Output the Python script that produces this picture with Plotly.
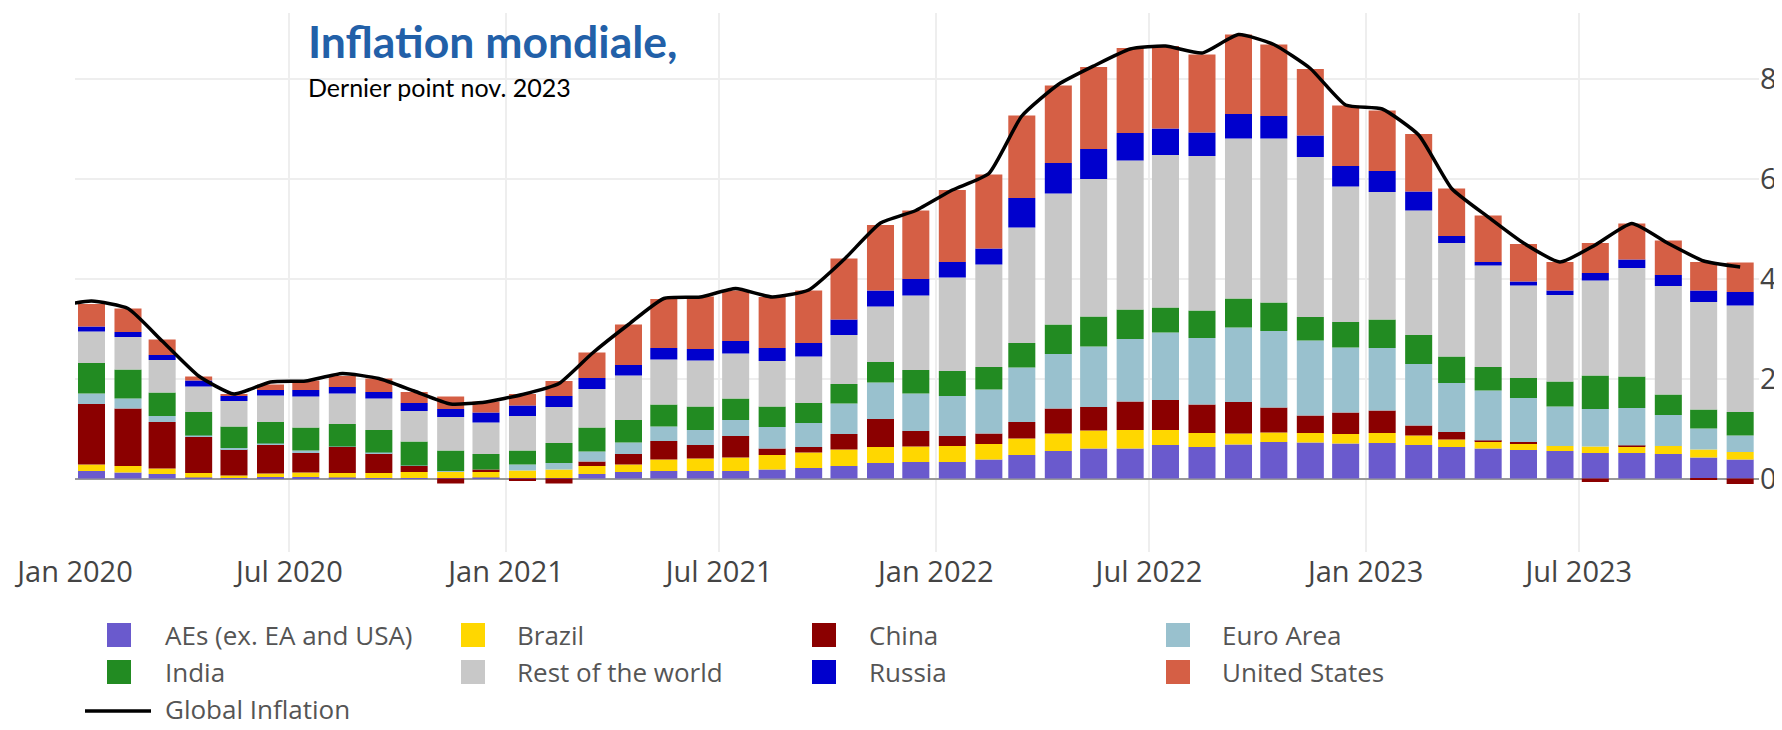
import plotly.graph_objects as go

# ---------------- data ----------------
bar_months = [f"{y}-{m:02d}-15" for y in range(2020, 2024) for m in range(1, 13)][:47]
line_months = ["2019-12-15"] + bar_months

series_names = ["AEs (ex. EA and USA)", "Brazil", "China", "Euro Area",
                "India", "Rest of the world", "Russia", "United States"]
series_colors = ["#6A5ACD", "#FFD700", "#8B0000", "#99C1CE",
                 "#228B22", "#C8C8C8", "#0000CD", "#D55F45"]

aes = [0.15, 0.12, 0.09, 0.02, 0.01, 0.03, 0.03, 0.02, 0.01, 0.01, 0.01, 0.02,
       0.01, 0.01, 0.09, 0.13, 0.15, 0.15, 0.15, 0.18, 0.21, 0.25, 0.31, 0.33,
       0.33, 0.38, 0.47, 0.55, 0.60, 0.60, 0.67, 0.63, 0.68, 0.73, 0.72, 0.70,
       0.71, 0.67, 0.63, 0.60, 0.57, 0.55, 0.51, 0.51, 0.49, 0.42, 0.38]
brazil = [0.13, 0.13, 0.11, 0.09, 0.05, 0.07, 0.09, 0.09, 0.10, 0.12, 0.13, 0.11,
          0.15, 0.17, 0.16, 0.15, 0.23, 0.25, 0.27, 0.29, 0.31, 0.33, 0.32, 0.31,
          0.32, 0.31, 0.33, 0.35, 0.36, 0.37, 0.30, 0.28, 0.22, 0.19, 0.19, 0.19,
          0.20, 0.19, 0.15, 0.13, 0.13, 0.10, 0.13, 0.13, 0.16, 0.16, 0.15]
china = [1.21, 1.15, 0.93, 0.72, 0.52, 0.57, 0.39, 0.52, 0.39, 0.12, -0.10, 0.05,
         -0.05, -0.10, 0.09, 0.21, 0.37, 0.27, 0.43, 0.13, 0.11, 0.31, 0.56, 0.31,
         0.20, 0.21, 0.33, 0.50, 0.47, 0.57, 0.60, 0.57, 0.63, 0.50, 0.35, 0.43,
         0.45, 0.20, 0.15, 0.03, 0.03, 0.00, -0.07, 0.02, 0.00, -0.03, -0.11]
euro_area = [0.21, 0.20, 0.12, 0.03, 0.03, 0.03, 0.05, 0.01, 0.02, 0.01, 0.01, 0.00,
             0.12, 0.13, 0.20, 0.23, 0.29, 0.30, 0.32, 0.43, 0.48, 0.61, 0.73, 0.75,
             0.80, 0.88, 1.09, 1.09, 1.21, 1.25, 1.35, 1.33, 1.49, 1.53, 1.50, 1.30,
             1.25, 1.23, 0.98, 1.00, 0.88, 0.79, 0.75, 0.75, 0.62, 0.42, 0.33]
india = [0.61, 0.58, 0.47, 0.47, 0.43, 0.43, 0.46, 0.45, 0.45, 0.48, 0.41, 0.31,
         0.28, 0.40, 0.48, 0.45, 0.44, 0.47, 0.43, 0.41, 0.40, 0.39, 0.41, 0.47,
         0.50, 0.45, 0.49, 0.59, 0.60, 0.59, 0.50, 0.55, 0.58, 0.57, 0.47, 0.51,
         0.57, 0.58, 0.53, 0.47, 0.40, 0.50, 0.67, 0.63, 0.41, 0.38, 0.47]
rest_of_world = [0.63, 0.65, 0.65, 0.51, 0.51, 0.53, 0.62, 0.61, 0.63, 0.61, 0.67, 0.63,
                 0.69, 0.72, 0.77, 0.89, 0.90, 0.92, 0.90, 0.91, 0.93, 0.98, 1.11, 1.49,
                 1.87, 2.05, 2.31, 2.62, 2.75, 2.98, 3.05, 3.09, 3.20, 3.28, 3.20, 2.71,
                 2.55, 2.49, 2.27, 2.03, 1.85, 1.73, 1.90, 2.17, 2.17, 2.15, 2.13]
russia = [0.10, 0.10, 0.10, 0.12, 0.10, 0.11, 0.13, 0.13, 0.13, 0.16, 0.16, 0.20,
          0.21, 0.22, 0.22, 0.21, 0.23, 0.23, 0.25, 0.26, 0.27, 0.31, 0.32, 0.33,
          0.31, 0.32, 0.59, 0.61, 0.60, 0.55, 0.53, 0.47, 0.49, 0.45, 0.43, 0.41,
          0.42, 0.38, 0.14, 0.07, 0.08, 0.09, 0.15, 0.17, 0.22, 0.23, 0.27]
united_states = [0.45, 0.47, 0.31, 0.08, 0.03, 0.11, 0.19, 0.22, 0.27, 0.22, 0.25, 0.22,
                 0.23, 0.30, 0.51, 0.81, 0.98, 1.05, 1.01, 1.02, 1.05, 1.22, 1.31, 1.37,
                 1.44, 1.48, 1.65, 1.55, 1.64, 1.70, 1.65, 1.56, 1.59, 1.43, 1.33, 1.21,
                 1.21, 1.15, 0.95, 0.93, 0.75, 0.57, 0.60, 0.72, 0.69, 0.57, 0.59]
global_inflation = [3.44,
                    3.55, 3.40, 2.75, 2.05, 1.69, 1.93, 1.95, 2.10, 2.00, 1.75, 1.49, 1.53,
                    1.68, 1.90, 2.50, 3.08, 3.60, 3.63, 3.80, 3.63, 3.77, 4.38, 5.11, 5.36,
                    5.77, 6.10, 7.25, 7.88, 8.25, 8.59, 8.65, 8.51, 8.88, 8.68, 8.20, 7.47,
                    7.39, 6.87, 5.80, 5.23, 4.71, 4.33, 4.67, 5.10, 4.70, 4.35, 4.23]

series_values = [aes, brazil, china, euro_area, india, rest_of_world, russia, united_states]
line_name = "Global Inflation"
title_text = "Inflation mondiale,"
subtitle_text = "Dernier point nov. 2023"
tick_values = [0, 2, 4, 6, 8]

# ---------------- figure ----------------
OFF = 8                      # page body margin
W, H = 1782 - OFF, 730 - OFF
L, R, T, B = 75 - OFF, 1759 - OFF, 13 - OFF, 552 - OFF   # plot area (figure px)


def px(x):   # x given in reference-screen pixels
    return (x - OFF - L) / (R - L)


def py(y):
    return (B - (y - OFF)) / (B - T)


fig = go.Figure()
for name, color, vals in zip(series_names, series_colors, series_values):
    fig.add_trace(go.Bar(x=bar_months, y=vals, name=name, marker_color=color,
                         marker_line_width=0, showlegend=False))
fig.add_trace(go.Scatter(x=line_months, y=global_inflation, name=line_name, mode="lines",
                         line=dict(color="black", width=3.5, shape="spline", smoothing=0.5),
                         showlegend=False))

font_family = "Open Sans"
fig.update_layout(
    width=W, height=H,
    margin=dict(l=L, r=W - R, t=T, b=H - B, autoexpand=False),
    paper_bgcolor="white", plot_bgcolor="white",
    barmode="relative", bargap=0.18,
    showlegend=False,
    font=dict(family=font_family, color="#444"),
    xaxis=dict(type="date", range=["2020-01-01", "2023-12-01"], dtick="M6",
               tick0="2020-01-01", tickformat="%b %Y", showgrid=True,
               gridcolor="#EEEEEE", gridwidth=2, zeroline=False, showline=False,
               ticks="", tickfont=dict(size=29, color="#444")),
    yaxis=dict(side="right", range=[-1.47, 9.31], tickvals=tick_values,
               showgrid=True, gridcolor="#EEEEEE", gridwidth=2,
               zeroline=True, zerolinecolor="#999999", zerolinewidth=2,
               showline=False, ticks="", tickfont=dict(size=29, color="#444")),
)

# title / subtitle
fig.add_annotation(text=f"<b>{title_text}</b>", xref="paper", yref="paper",
                   x=px(306), y=py(12), xanchor="left", yanchor="top", showarrow=False,
                   font=dict(family="Lato", size=44.5, color="#2260A8"))
fig.add_annotation(text=subtitle_text, xref="paper", yref="paper",
                   x=px(306), y=py(70), xanchor="left", yanchor="top", showarrow=False,
                   font=dict(family="Lato", size=25, color="black"))

# custom legend (built from series lists)
col_sw = [119, 473, 824, 1178]
col_tx = [164, 516, 868, 1221]
row_y = [635, 672, 709]
sw = 24
for i, (name, color) in enumerate(zip(series_names, series_colors)):
    r, c = divmod(i, 4)
    cx, cy = col_sw[c], row_y[r]
    fig.add_shape(type="rect", xref="paper", yref="paper",
                  x0=px(cx - sw / 2), x1=px(cx + sw / 2), y0=py(cy + sw / 2), y1=py(cy - sw / 2),
                  fillcolor=color, line=dict(width=0))
    fig.add_annotation(text=name, xref="paper", yref="paper", x=px(col_tx[c]), y=py(cy),
                       xanchor="left", yanchor="middle", showarrow=False, borderpad=0,
                       font=dict(family=font_family, size=26, color="#555"))
row3_y = row_y[2]
fig.add_shape(type="line", xref="paper", yref="paper", x0=px(85), x1=px(151),
              y0=py(row3_y + 2), y1=py(row3_y + 2), line=dict(color="black", width=3.5))
fig.add_annotation(text=line_name, xref="paper", yref="paper", x=px(col_tx[0]), y=py(row3_y),
                   xanchor="left", yanchor="middle", showarrow=False, borderpad=0,
                   font=dict(family=font_family, size=26, color="#555"))

fig.write_html("out.html")
